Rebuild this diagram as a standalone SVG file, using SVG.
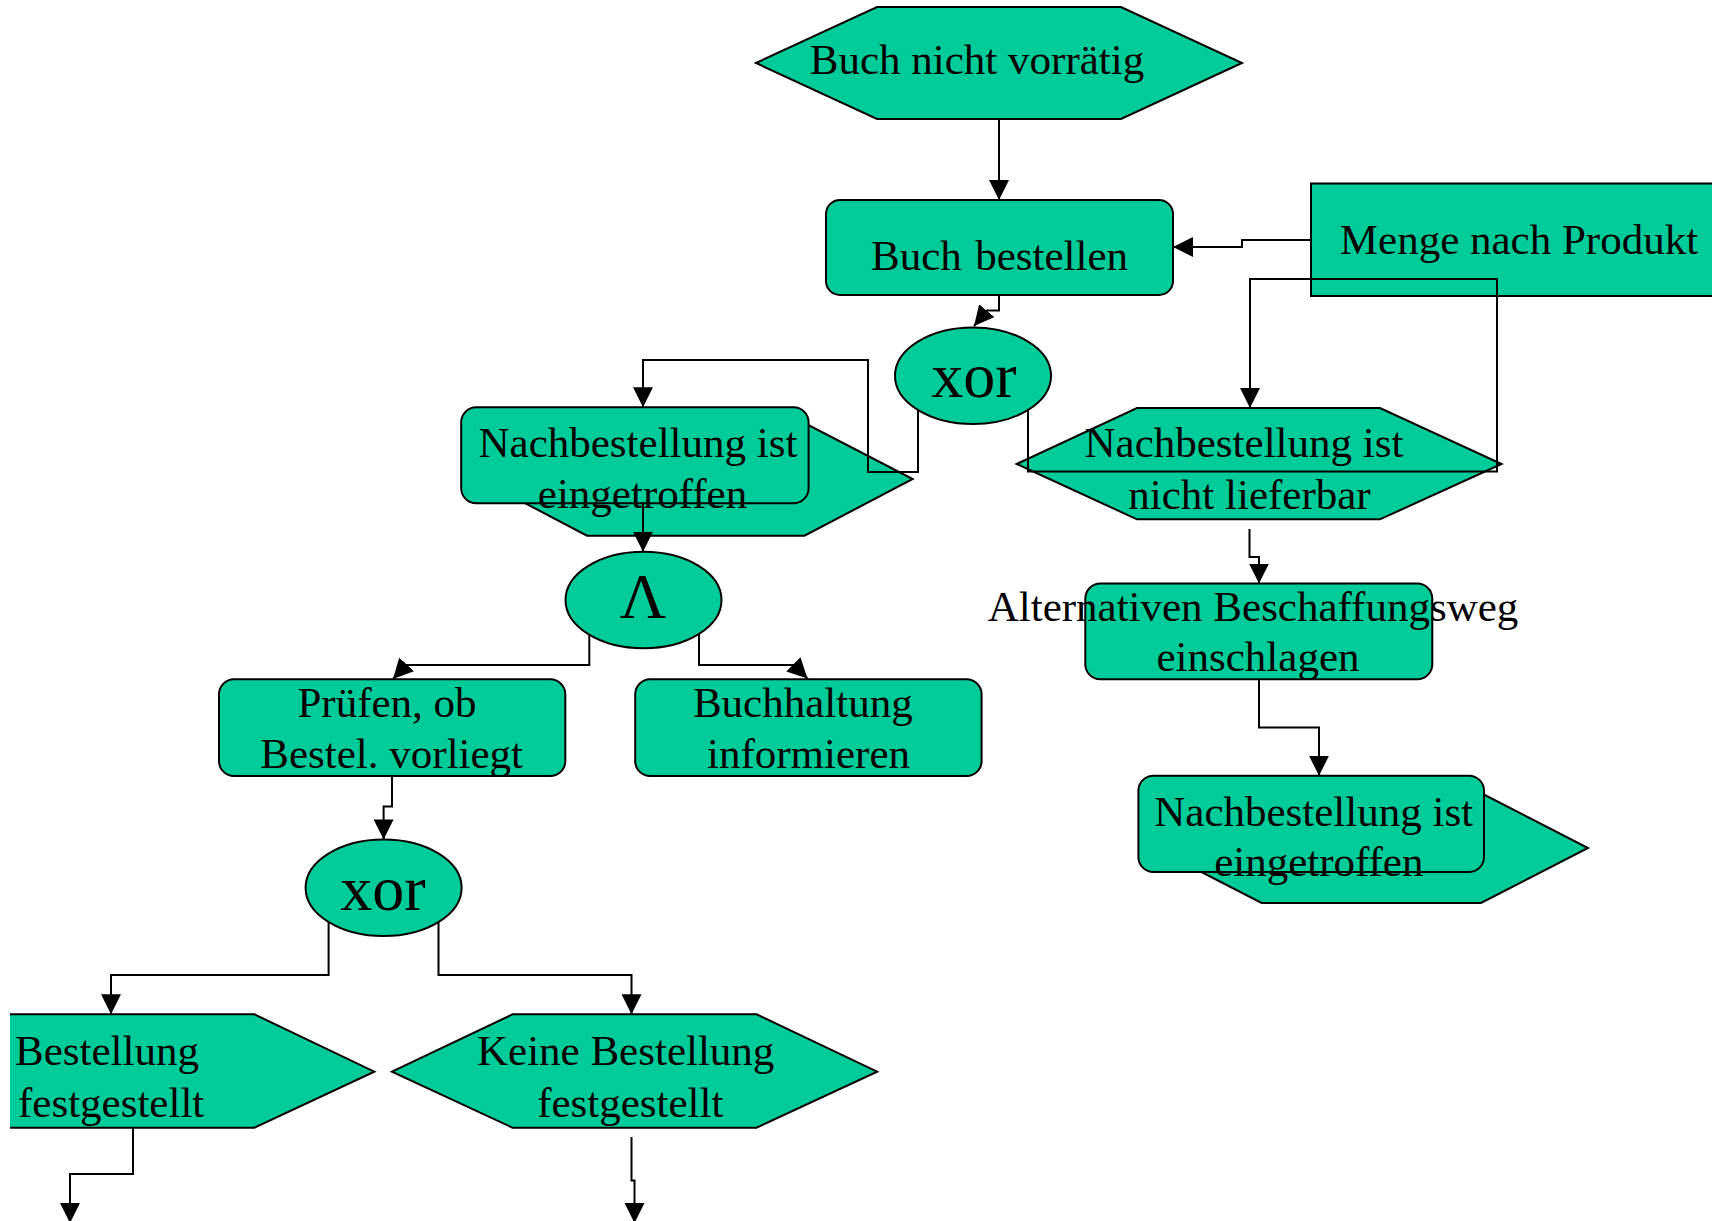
<svg xmlns="http://www.w3.org/2000/svg" width="1712" height="1221" viewBox="0 0 1712 1221">
<style>
.s{fill:#00cc99;stroke:#000;stroke-width:2}
.f{fill:#00cc99;stroke:none}
.o{fill:none;stroke:#000;stroke-width:2}
.t{font-family:"Liberation Serif","Times New Roman",serif;font-size:43px;fill:#000}
.m{text-anchor:middle}
.e{text-anchor:end}
.g{font-size:64px}
.c{fill:none;stroke:#000;stroke-width:2}
</style>
<defs>
<marker id="a" viewBox="0 0 20 20" refX="20" refY="10" markerWidth="20" markerHeight="20" markerUnits="userSpaceOnUse" orient="auto">
<path d="M0,0 L20,10 L0,20 z" fill="#000"/>
</marker>
</defs>
<rect width="1712" height="1221" fill="#fff"/>
<g id="n-buch-nicht-vorraetig">
<polygon class="s" points="756,63 877,7 1121,7 1242,63 1121,119 877,119"/>
<text class="t m" x="977" y="74">Buch nicht vorrätig</text>
</g>
<g id="n-buch-bestellen">
<rect class="s" x="826" y="200" width="347" height="95" rx="14"/>
<text class="t" x="871" y="270">Buch</text>
<text class="t e" x="1128" y="270">bestellen</text>
</g>
<g id="n-menge">
<rect class="s" x="1311" y="183.5" width="420" height="112.5"/>
<text class="t m" x="1519" y="254">Menge nach Produkt</text>
</g>
<g id="n-xor1">
<ellipse class="s" cx="973" cy="375.7" rx="78" ry="48.3"/>
<text class="t m g" x="974" y="397">xor</text>
</g>
<g id="n-nachbest-eingetroffen-1">
<polygon class="s" points="479,479 587,423 804.5,423 912.7,479 804.5,535.7 587,535.7"/>
<rect class="s" x="461.2" y="407.3" width="347.4" height="96" rx="15"/>
<text class="t m" x="638" y="456.7">Nachbestellung ist</text>
<text class="t m" x="642.5" y="508.3">eingetroffen</text>
</g>
<g id="n-nicht-lieferbar">
<polygon class="s" points="1016.7,464 1137,408 1380,408 1501.6,464 1380,519.3 1137,519.3"/>
<text class="t m" x="1244" y="456.8">Nachbestellung ist</text>
<text class="t m" x="1249.5" y="508.6">nicht lieferbar</text>
</g>
<g id="n-and">
<ellipse class="s" cx="643.5" cy="600" rx="78" ry="48.3"/>
<text class="t m g" x="643" y="618.3">Λ</text>
</g>
<g id="n-alternativen">
<rect class="s" x="1085.3" y="583.6" width="347" height="95.7" rx="15"/>
<text class="t m" x="1253" y="621">Alternativen Beschaffungsweg</text>
<text class="t m" x="1258" y="671">einschlagen</text>
</g>
<g id="n-pruefen">
<rect class="s" x="219" y="679.3" width="346.3" height="96.7" rx="15"/>
<text class="t m" x="387" y="717.3">Prüfen, ob</text>
<text class="t m" x="391.7" y="768.3">Bestel. vorliegt</text>
</g>
<g id="n-buchhaltung">
<rect class="s" x="635.2" y="679.3" width="346.4" height="96.7" rx="15"/>
<text class="t m" x="802.8" y="717.3">Buchhaltung</text>
<text class="t m" x="808.5" y="768.3">informieren</text>
</g>
<g id="n-nachbest-eingetroffen-2">
<polygon class="s" points="1154.6,848 1261.6,793 1481,793 1588,848 1481,903 1261.6,903"/>
<rect class="s" x="1138.4" y="775.7" width="345.6" height="96.3" rx="15"/>
<text class="t m" x="1313.7" y="826.4">Nachbestellung ist</text>
<text class="t m" x="1318.8" y="876.4">eingetroffen</text>
</g>
<g id="n-xor2">
<ellipse class="s" cx="383.6" cy="887.7" rx="78" ry="48.3"/>
<text class="t m g" x="383" y="910">xor</text>
</g>
<g id="n-bestellung-festgestellt">
<polygon class="f" points="10,1014.3 254.3,1014.3 374.3,1071.7 254.3,1127.7 10,1127.7"/>
<polyline class="o" points="10,1014.3 254.3,1014.3 374.3,1071.7 254.3,1127.7 10,1127.7"/>
<text class="t" x="15" y="1065">Bestellung</text>
<text class="t" x="18" y="1116.7">festgestellt</text>
</g>
<g id="n-keine-bestellung">
<polygon class="s" points="392,1071.7 512.6,1014.3 756.6,1014.3 877.2,1071.7 756.6,1127.7 512.6,1127.7"/>
<text class="t m" x="625.7" y="1065">Keine Bestellung</text>
<text class="t m" x="630.3" y="1116.7">festgestellt</text>
</g>
<g id="connectors" class="c">
<path marker-end="url(#a)" d="M999,119 V200"/>
<path marker-end="url(#a)" d="M1311,240 H1242 V247 H1173"/>
<path marker-end="url(#a)" d="M999,295 V310.5 H987 L974,326"/>
<path marker-end="url(#a)" d="M918,410 V472 H868 V360 H643 V407.3"/>
<path marker-end="url(#a)" d="M1028,410 V471.5 H1497 V279 H1250 V408"/>
<path marker-end="url(#a)" d="M1249.5,529 V557 H1259 V583.6"/>
<path marker-end="url(#a)" d="M1259,679.3 V727.5 H1319 V775.7"/>
<path marker-end="url(#a)" d="M643,502 V551.7"/>
<path marker-end="url(#a)" d="M589.3,635 V665 H406 L393,679"/>
<path marker-end="url(#a)" d="M699,634 V665 H794 L807.5,678.5"/>
<path marker-end="url(#a)" d="M392,776 V806.5 H383.6 V839.4"/>
<path marker-end="url(#a)" d="M328.6,922 V975 H111 V1014.3"/>
<path marker-end="url(#a)" d="M438.5,922 V975 H631.5 V1014.3"/>
<path marker-end="url(#a)" d="M133,1127.7 V1174 H70 V1223"/>
<path marker-end="url(#a)" d="M631.5,1137 V1180.5 H634.5 V1223"/>
</g>
</svg>
